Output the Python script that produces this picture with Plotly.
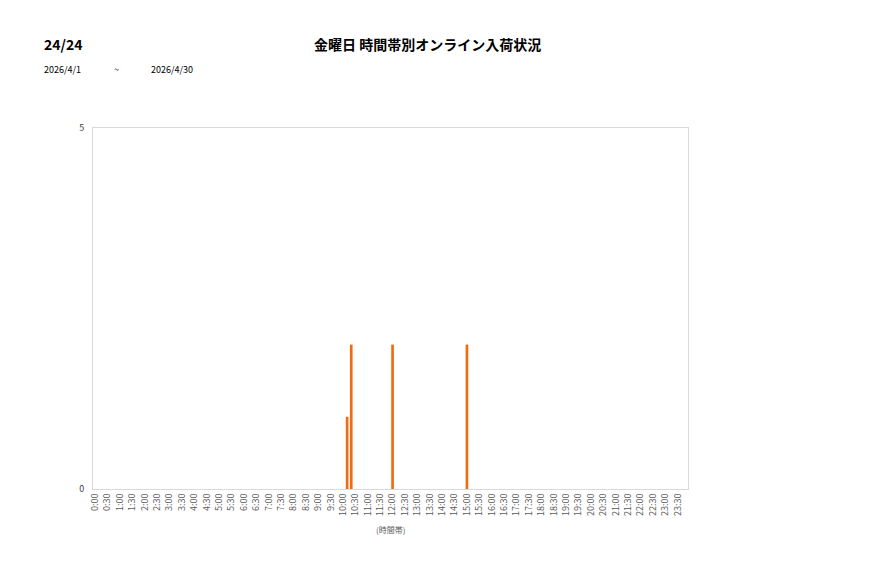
import plotly.graph_objects as go

# 10-minute time slots (categories) and tick labels every 30 minutes
slots = [f"{h}:{m:02d}" for h in range(24) for m in (0, 10, 20, 30, 40, 50)]
tick_labels = [f"{h}:{m:02d}" for h in range(24) for m in (0, 30)]

# observed arrivals (non-zero slots)
hit_slots = ["10:10", "10:20", "12:00", "15:00"]
hit_counts = [1, 2, 2, 2]

values = [hit_counts[hit_slots.index(s)] if s in hit_slots else 0 for s in slots]

FONT = "Noto Sans CJK JP"
OFF = 8  # page body margin
W, H = 877, 578
L, R, T, B = 93 - OFF, W - 688 + OFF, 128 - OFF, H - 489 + OFF

fig = go.Figure(go.Bar(
    x=slots, y=values,
    marker=dict(color="#f06c10", line=dict(width=0)),
))

fig.update_layout(
    width=W, height=H,
    margin=dict(l=L, r=R, t=T, b=B),
    paper_bgcolor="white", plot_bgcolor="white",
    font=dict(family=FONT, size=9, color="#595959"),
    bargap=0.35,
    showlegend=False,
)

pw, ph = 688 - 93, 489 - 128
def px(x): return (x - 93) / pw
def py(y): return (489 - y) / ph

def note(text, x, y, size, color="#000000", anchor="left"):
    fig.add_annotation(text=text, x=px(x), y=py(y), xref="paper", yref="paper",
                       xanchor=anchor, yanchor="middle", showarrow=False,
                       font=dict(size=size, color=color, family=FONT))

note("<b>24/24</b>", 42, 44, 14)
note("<b>金曜日 時間帯別オンライン入荷状況</b>", 427, 44, 14, anchor="center")
note("2026/4/1", 42, 70, 9)
note("~", 116, 70, 9, anchor="center")
note("2026/4/30", 149, 70, 9)
note("(時間帯)", 390, 529, 8, color="#595959", anchor="center")

fig.update_xaxes(
    type="category", categoryorder="array", categoryarray=slots,
    range=[-0.5, len(slots) - 0.5],
    tickmode="array", tickvals=tick_labels, ticktext=tick_labels,
    tickangle=-90, tickfont=dict(size=9, color="#595959"),
    showgrid=False, zeroline=False,
    showline=True, linecolor="#d9d9d9", linewidth=1, mirror=True,
    ticks="", ticklen=0,
)
fig.update_yaxes(
    range=[0, 5], tickmode="array", tickvals=[0, 5],
    tickfont=dict(size=9, color="#404040"),
    showgrid=False, zeroline=False,
    showline=True, linecolor="#d9d9d9", linewidth=1, mirror=True,
    ticks="outside", ticklen=6, tickcolor="white",
)

fig.write_html("out.html")
